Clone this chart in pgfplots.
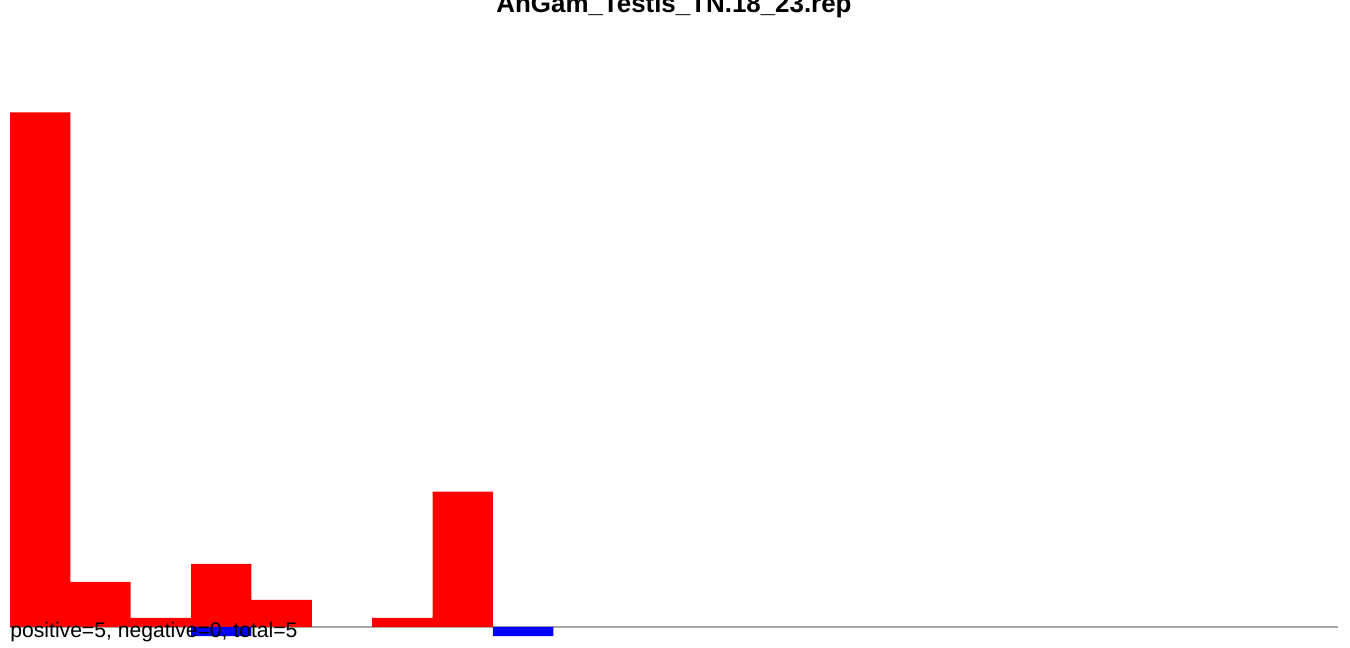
\documentclass[border=0pt]{standalone}
\usepackage{fontspec}
\setmainfont{Liberation Sans}
\usepackage{pgfplots}
\pgfplotsset{compat=1.18}

\definecolor{axisgray}{HTML}{A6A6A6}

\begin{document}
\begin{tikzpicture}
% page is 1350x648 px, drawn at 0.5bp per px
\useasboundingbox (0,0) rectangle (675bp,324bp);
\clip (0,0) rectangle (675bp,324bp);
\begin{axis}[
    at={(5bp,0)},
    scale only axis,
    width=664bp,
    height=324bp,
    xmin=0, xmax=22,
    ymin=-2.3256, ymax=69.4352,
    axis lines=none,
    clip=false,
]
\draw[draw=axisgray, line width=0.8bp] (axis cs:0,0) -- (axis cs:22,0);

% positive counts (bin 6 is empty)
\addplot[ybar, bar width=1, bar shift=0, fill=red, draw=none]
coordinates {
  (0.5,57) (1.5,5) (2.5,1) (3.5,7) (4.5,3) (6.5,1) (7.5,15)
};
% negative counts
\addplot[ybar, bar width=1, bar shift=0, fill=blue, draw=none]
coordinates {
  (3.5,-1) (8.5,-1)
};
\end{axis}
\node[anchor=base, font=\fontsize{13}{15}\selectfont\bfseries, inner sep=0]
  at (337bp,317.5bp) {AnGam\_Testis\_TN.18\_23.rep};
\node[anchor=base west, font=\fontsize{10.6}{12}\selectfont, inner sep=0]
  at (5bp,5.5bp) {positive=5, negative=0, total=5};
\end{tikzpicture}
\end{document}
